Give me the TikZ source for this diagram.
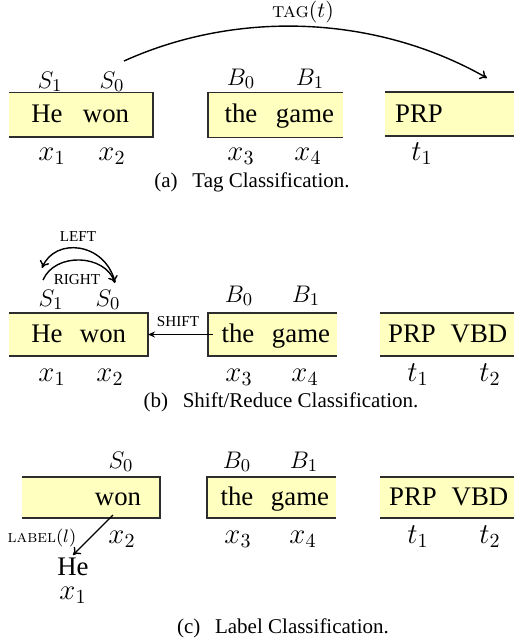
\documentclass[tikz,border=0pt]{standalone}
\usepackage{fontspec}
\newfontfamily\tnr{Liberation Serif}
\usetikzlibrary{fit,arrows.meta}
\definecolor{boxyellow}{RGB}{255,255,192}
\definecolor{edgegray}{RGB}{45,45,45}
\begin{document}
\begin{tikzpicture}[x=0.5pt,y=-0.5pt,
  boxfill/.style={fill=boxyellow,draw=none,inner sep=0pt,outer sep=0pt},
  border/.style={draw=edgegray,line width=0.9pt},
  word/.style={font=\tnr\fontsize{13.4}{16}\selectfont,anchor=base,inner sep=0pt},
  xlab/.style={font=\fontsize{14.4}{17}\selectfont,anchor=base,inner sep=0pt},
  slab/.style={font=\fontsize{13}{15}\selectfont,anchor=base,inner sep=0pt},
  capt/.style={font=\tnr\fontsize{10.5}{12}\selectfont,anchor=base,inner sep=0pt},
  opname/.style={font=\tnr\fontsize{7.6}{9}\selectfont,anchor=base,inner sep=0pt},
  scname/.style={font=\fontsize{10.5}{12}\selectfont,anchor=base,inner sep=0pt},
  scsmall/.style={font=\fontsize{8.7}{10}\selectfont,anchor=base,inner sep=0pt},
  arr/.style={draw=black,line width=0.7pt,-{To[length=3.5pt,width=5pt]}},
  shiftarr/.style={draw=black,line width=0.7pt,-{Stealth[length=3.5pt,width=3pt]}},
]
\useasboundingbox (0,0) rectangle (514,644);

% ---------------- (a) ----------------
\node[boxfill,fit={(9,92.5) (153,137)}] (saa) {};
\node[boxfill,fit={(208,92.5) (343,137.5)}] (bba) {};
\node[boxfill,fit={(385,92) (514,136)}] (tga) {};
\draw[border] (saa.north west) -- (saa.north east) -- (saa.south east) -- (saa.south west);
\draw[border] (bba.north east) -- (bba.north west) -- (bba.south west) -- (bba.south east);
\draw[border] (tga.north west) -- (tga.north east);
\draw[border] (tga.south west) -- (tga.south east);

\node[word] (hea) at (47,122) {He};
\node[word] (wona) at (106,122) {won};
\node[word] (thea) at (241,122) {the};
\node[word] (gamea) at (305,122) {game};
\node[word] (prpa) at (419,122) {PRP};

\node[slab] (s1a) at (50,88) {$S_1$};
\node[slab] (s0a) at (112,88) {$S_0$};
\node[slab] (b0a) at (241,85) {$B_0$};
\node[slab] (b1a) at (310,85) {$B_1$};

\node[xlab] (x1a) at (52,160) {$x_1$};
\node[xlab] (x2a) at (112,160) {$x_2$};
\node[xlab] (x3a) at (241,160) {$x_3$};
\node[xlab] (x4a) at (308,160) {$x_4$};
\node[xlab] (t1a) at (422,160) {$t_1$};

\coordinate (tagfrom) at (124,61);
\coordinate (tagto) at (487,78);
\draw[arr] (tagfrom) .. controls (239,9) and (377.5,15.6) .. (tagto);
\node[scname] (tagl) at (303,17) {\textsc{tag}$(t)$};

\node[capt] (capa) at (252,187) {(a)\hspace{0.7em}Tag Classification.};

% ---------------- (b) ----------------
\node[boxfill,fit={(9,313) (148,356)}] (sab) {};
\node[boxfill,fit={(208,313) (337,356)}] (bbb) {};
\node[boxfill,fit={(380,313) (514,356)}] (tgb) {};
\draw[border] (sab.north west) -- (sab.north east) -- (sab.south east) -- (sab.south west);
\draw[border] (bbb.north east) -- (bbb.north west) -- (bbb.south west) -- (bbb.south east);
\draw[border] (tgb.north west) -- (tgb.north east);
\draw[border] (tgb.south west) -- (tgb.south east);

\node[word] (heb) at (47,342) {He};
\node[word] (wonb) at (103,342) {won};
\node[word] (theb) at (238,342) {the};
\node[word] (gameb) at (301,342) {game};
\node[word] (prpb) at (412,342) {PRP};
\node[word] (vbdb) at (479,342) {VBD};

\node[slab] (s1b) at (51,306) {$S_1$};
\node[slab] (s0b) at (108,306) {$S_0$};
\node[slab] (b0b) at (239,302) {$B_0$};
\node[slab] (b1b) at (306,302) {$B_1$};

\node[xlab] (x1b) at (52,381) {$x_1$};
\node[xlab] (x2b) at (110,381) {$x_2$};
\node[xlab] (x3b) at (239,381) {$x_3$};
\node[xlab] (x4b) at (305,381) {$x_4$};
\node[xlab] (t1b) at (418,381) {$t_1$};
\node[xlab] (t2b) at (490,381) {$t_2$};

\draw[shiftarr] ([xshift=2.5pt]bbb.west) -- (sab.east);
\node[opname] (shiftl) at (178,326) {SHIFT};

\coordinate (lfrom) at (115,282);
\coordinate (lto) at (42,268);
\coordinate (rfrom) at (43,280);
\coordinate (rto) at (115,283);
\draw[arr] (lfrom) .. controls (105,242) and (55,237) .. (lto);
\draw[arr] (rfrom) .. controls (55,252) and (105,254) .. (rto);
\node[opname] (leftl) at (78,241) {LEFT};
\node[opname] (rightl) at (77,284) {RIGHT};

\node[capt] (capb) at (281,407) {(b)\hspace{0.7em}Shift/Reduce Classification.};

% ---------------- (c) ----------------
\node[boxfill,fit={(22,477) (160,518)}] (sac) {};
\node[boxfill,fit={(207,477) (336,518)}] (bbc) {};
\node[boxfill,fit={(380,477) (514,518)}] (tgc) {};
\draw[border] (sac.north west) -- (sac.north east) -- (sac.south east) -- (sac.south west);
\draw[border] (bbc.north east) -- (bbc.north west) -- (bbc.south west) -- (bbc.south east);
\draw[border] (tgc.north west) -- (tgc.north east);
\draw[border] (tgc.south west) -- (tgc.south east);

\node[word] (wonc) at (118,505) {won};
\node[word] (thec) at (237,505) {the};
\node[word] (gamec) at (300,505) {game};
\node[word] (prpc) at (413,505) {PRP};
\node[word] (vbdc) at (480,505) {VBD};

\node[slab] (s0c) at (121,468) {$S_0$};
\node[slab] (b0c) at (237,468) {$B_0$};
\node[slab] (b1c) at (304,468) {$B_1$};

\node[xlab] (x2c) at (122,543) {$x_2$};
\node[xlab] (x3c) at (238,543) {$x_3$};
\node[xlab] (x4c) at (303,543) {$x_4$};
\node[xlab] (t1c) at (418,543) {$t_1$};
\node[xlab] (t2c) at (490,543) {$t_2$};

\node[word] (hec) at (73,575) {He};
\node[xlab] (x1c) at (73,599) {$x_1$};

\coordinate (labfrom) at (113,515);
\coordinate (labto) at (73,555);
\draw[arr] (labfrom) -- (labto);
\node[scsmall] (labl) at (42,542) {\textsc{label}$(l)$};

\node[capt] (capc) at (283,633) {(c)\hspace{0.7em}Label Classification.};
\end{tikzpicture}
\end{document}
